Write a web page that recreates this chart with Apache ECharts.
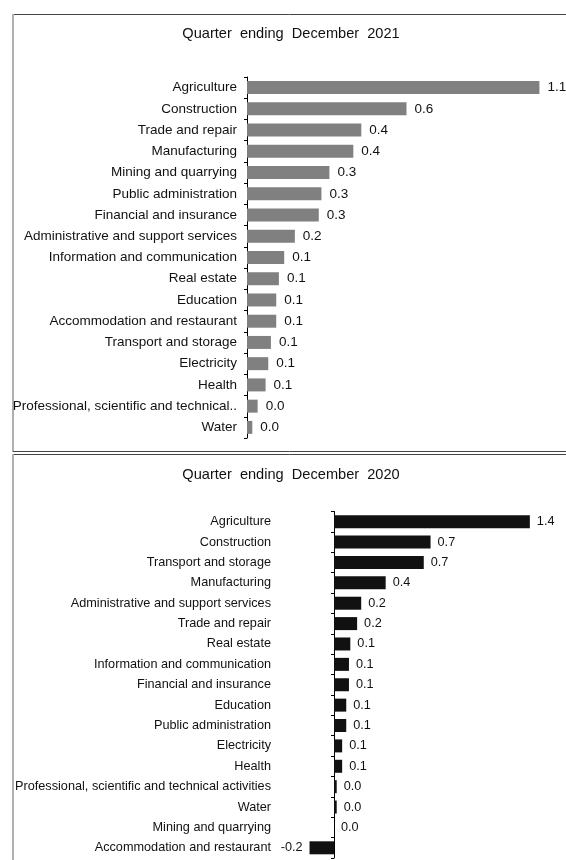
<!DOCTYPE html>
<html>
<head>
<meta charset="utf-8">
<script src="https://cdn.jsdelivr.net/npm/echarts@6/dist/echarts.min.js"></script>
<style>
html,body{margin:0;padding:0;background:#fff;}
#chart{width:566px;height:860px;}
</style>
</head>
<body>
<div id="chart"></div>
<script>
// ---- Data ----
const title2021 = 'Quarter  ending  December  2021';
const categories2021 = ['Agriculture','Construction','Trade and repair','Manufacturing','Mining and quarrying','Public administration','Financial and insurance','Administrative and support services','Information and communication','Real estate','Education','Accommodation and restaurant','Transport and storage','Electricity','Health','Professional, scientific and technical..','Water'];
const values2021 = [1.10,0.60,0.43,0.40,0.31,0.28,0.27,0.18,0.14,0.12,0.11,0.11,0.09,0.08,0.07,0.04,0.02];

const title2020 = 'Quarter  ending  December  2020';
const categories2020 = ['Agriculture','Construction','Transport and storage','Manufacturing','Administrative and support services','Trade and repair','Real estate','Information and communication','Financial and insurance','Education','Public administration','Electricity','Health','Professional, scientific and technical activities','Water','Mining and quarrying','Accommodation and restaurant'];
const values2020 = [1.44,0.71,0.66,0.38,0.20,0.17,0.12,0.11,0.11,0.09,0.09,0.06,0.06,0.02,0.02,0.00,-0.18];

const FONT = 'Liberation Sans, Arial, sans-serif';
const chart = echarts.init(document.getElementById('chart'), null, {renderer:'canvas'});

function seriesData(vals){
  return vals.map(v => ({
    value: v,
    label: { position: v < 0 ? 'left' : 'right' }
  }));
}

const option = {
  animation: false,
  backgroundColor: '#fff',
  title: [
    { text: title2021, left: 286, top: 21, textAlign: 'center',
      textStyle: { fontFamily: FONT, fontSize: 14.6, fontWeight: 'normal', color: '#111' } },
    { text: title2020, left: 286, top: 462, textAlign: 'center',
      textStyle: { fontFamily: FONT, fontSize: 14.6, fontWeight: 'normal', color: '#111' } }
  ],
  graphic: [
    { type: 'line', shape: { x1: 13, y1: 14.5, x2: 566, y2: 14.5 }, style: { stroke: '#444', lineWidth: 1 } },
    { type: 'line', shape: { x1: 13, y1: 14, x2: 13, y2: 452 }, style: { stroke: '#b0b0b0', lineWidth: 2 } },
    { type: 'line', shape: { x1: 13, y1: 451.5, x2: 566, y2: 451.5 }, style: { stroke: '#444', lineWidth: 1 } },
    { type: 'line', shape: { x1: 13, y1: 454.5, x2: 566, y2: 454.5 }, style: { stroke: '#444', lineWidth: 1 } },
    { type: 'line', shape: { x1: 13, y1: 454, x2: 13, y2: 860 }, style: { stroke: '#b0b0b0', lineWidth: 2 } }
  ],
  grid: [
    { left: 247, top: 77, width: 320.4, height: 361, containLabel: false },
    { left: 300, top: 511.5, width: 251.6, height: 346.5, containLabel: false }
  ],
  xAxis: [
    { type: 'value', gridIndex: 0, min: 0, max: 1.2, show: false },
    { type: 'value', gridIndex: 1, min: -0.25, max: 1.6, show: false }
  ],
  yAxis: [
    { type: 'category', gridIndex: 0, data: categories2021, inverse: true,
      axisLine: { show: true, onZero: true, lineStyle: { color: '#000', width: 1 } },
      axisTick: { show: true, length: 3, lineStyle: { color: '#000' } },
      axisLabel: { margin: 10, fontFamily: FONT, fontSize: 13.5, color: '#111' },
      splitLine: { show: false } },
    { type: 'category', gridIndex: 1, data: categories2020, inverse: true,
      axisLine: { show: true, onZero: true, lineStyle: { color: '#000', width: 1 } },
      axisTick: { show: true, length: 3, lineStyle: { color: '#000' } },
      axisLabel: { margin: 29, fontFamily: FONT, fontSize: 12.7, color: '#111' },
      splitLine: { show: false } }
  ],
  series: [
    { type: 'bar', xAxisIndex: 0, yAxisIndex: 0, data: seriesData(values2021),
      barWidth: 13, itemStyle: { color: '#808080' },
      label: { show: true, distance: 8, fontFamily: FONT, fontSize: 13.5, color: '#111',
        formatter: p => p.value.toFixed(1) } },
    { type: 'bar', xAxisIndex: 1, yAxisIndex: 1, data: seriesData(values2020),
      barWidth: 13, itemStyle: { color: '#111111' },
      label: { show: true, distance: 7, fontFamily: FONT, fontSize: 12.7, color: '#111',
        formatter: p => p.value.toFixed(1) } }
  ]
};
chart.setOption(option);
</script>
</body>
</html>
